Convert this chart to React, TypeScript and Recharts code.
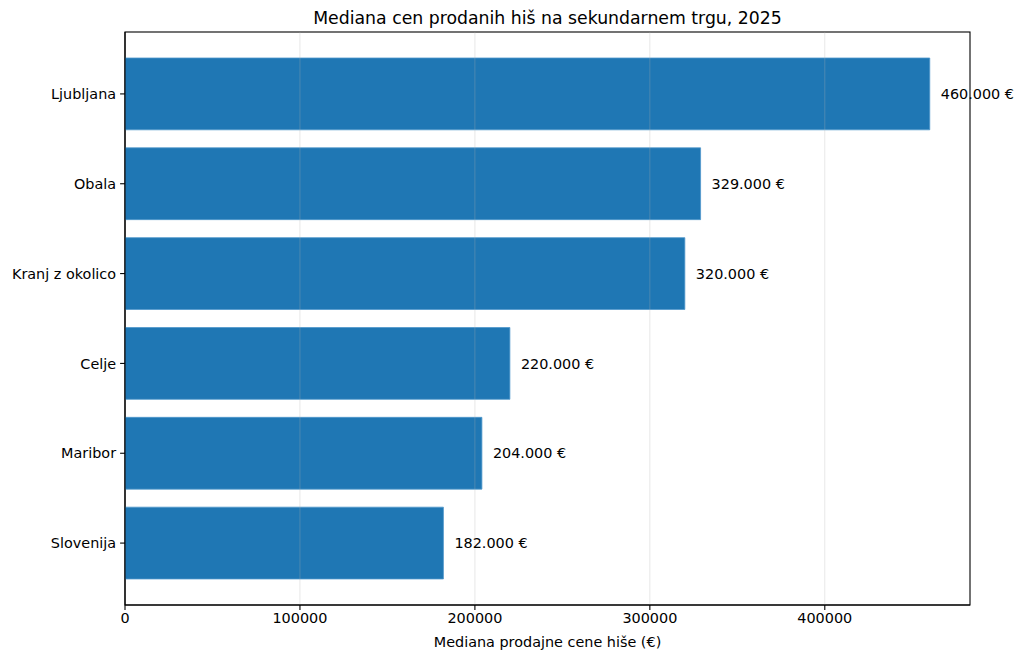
import React from "react";
import * as R from "recharts";
import {
  BarChart,
  Bar,
  XAxis,
  YAxis,
  LabelList,
  ReferenceLine,
} from "recharts";

const regions = ["Ljubljana", "Obala", "Kranj z okolico", "Celje", "Maribor", "Slovenija"];
const medianPrices = [460000, 329000, 320000, 220000, 204000, 182000];
const xTicks = [0, 100000, 200000, 300000, 400000];

const data = regions.map((name, i) => ({ name, value: medianPrices[i] }));

const FONT = "'DejaVu Sans', sans-serif";
const TICK_FS = 14.4;
const fmtEuro = (v: number) =>
  String(v).replace(/\B(?=(\d{3})+(?!\d))/g, ".") + " €";

function Frame() {
  const hook: any = (R as any).usePlotArea || (R as any).useOffset;
  const area: any = hook ? hook() : null;
  if (!area) return null;
  const x = area.x ?? area.left;
  const y = area.y ?? area.top;
  const w = area.width;
  const h = area.height;
  if (w == null || h == null) return null;
  return (
    <rect x={x} y={y} width={w} height={h} fill="none" stroke="#000" strokeWidth={1.1} />
  );
}

export default function App() {
  return (
    <div style={{ position: "absolute", left: 0, top: 0, width: 1024, height: 660, background: "#fff", fontFamily: FONT }}>
      <BarChart
        width={1024}
        height={660}
        data={data}
        layout="vertical"
        margin={{ top: 32, right: 54, left: 0, bottom: 0 }}
      >
        <XAxis
          type="number"
          domain={[0, 483000]}
          ticks={xTicks}
          allowDataOverflow
          height={55}
          axisLine={{ stroke: "#000", strokeWidth: 1.1 }}
          tickLine={{ stroke: "#000", strokeWidth: 1.1 }}
          tickSize={4.9}
          tick={{ fill: "#000", fontSize: TICK_FS, fontFamily: FONT, dy: 1 }}
          label={{
            value: "Mediana prodajne cene hiše (€)",
            position: "insideBottom",
            offset: 13,
            fill: "#000",
            fontSize: TICK_FS,
            fontFamily: FONT,
          }}
        />
        <YAxis
          type="category"
          dataKey="name"
          width={125}
          padding={{ top: 17, bottom: 17 }}
          axisLine={{ stroke: "#000", strokeWidth: 1.1 }}
          tickLine={{ stroke: "#000", strokeWidth: 1.1 }}
          tickSize={4.9}
          tick={{ fill: "#000", fontSize: TICK_FS, fontFamily: FONT, dx: -2 }}
        />
        <Bar
          dataKey="value"
          fill="#1f77b4"
          stroke="#4f97cc"
          strokeWidth={0.8}
          barSize={71.8}
          isAnimationActive={false}
        >
          <LabelList
            dataKey="value"
            position="right"
            offset={11}
            formatter={(v: any) => fmtEuro(Number(v))}
            style={{ fill: "#000", fontSize: TICK_FS, fontFamily: FONT }}
          />
        </Bar>
        {xTicks.slice(1).map((t) => (
          <ReferenceLine key={t} x={t} stroke="#b0b0b0" strokeOpacity={0.3} strokeWidth={1} />
        ))}
        <Frame />
        <text
          x={547.5}
          y={24}
          textAnchor="middle"
          fill="#000"
          fontSize={17.3}
          fontFamily={FONT}
        >
          Mediana cen prodanih hiš na sekundarnem trgu, 2025
        </text>
      </BarChart>
    </div>
  );
}
